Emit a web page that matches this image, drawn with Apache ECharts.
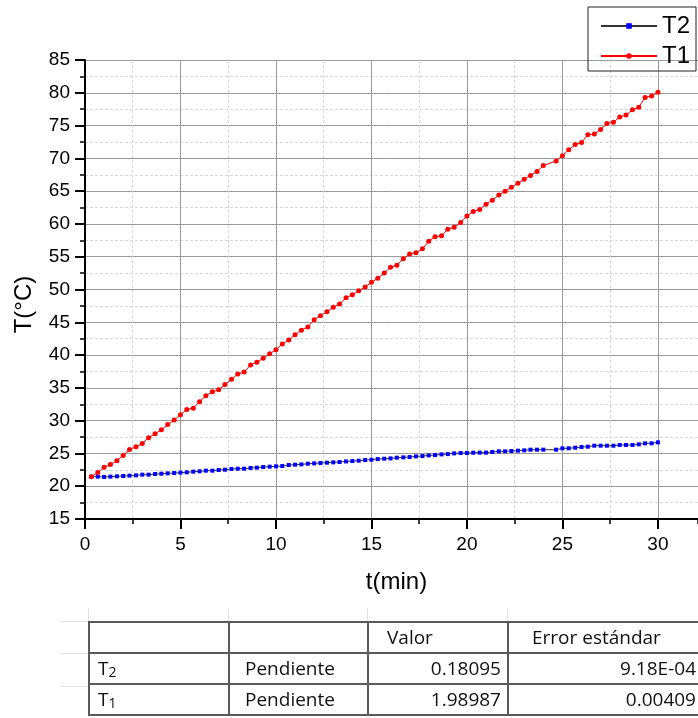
<!DOCTYPE html>
<html>
<head>
<meta charset="utf-8">
<script src="https://cdn.jsdelivr.net/npm/echarts@6/dist/echarts.min.js"></script>
<style>
  html, body { margin: 0; padding: 0; background: #fff; }
  body { width: 698px; height: 718px; overflow: hidden; position: relative; }
  #chart { position: absolute; left: 0; top: 0; width: 698px; height: 718px; }
  .tbl { position: absolute; left: 88px; top: 621px; width: 669px; border-collapse: collapse; table-layout: fixed;
         font-family: 'Open Sans', 'Noto Sans', sans-serif; font-size: 19px; color: #111; }
  .tbl td { border: 2px solid #5a5a5a; height: 29px; padding: 0; white-space: nowrap; overflow: hidden; line-height: 29px; }
  .tbl .l { text-align: left; padding-left: 8px; }
  .tbl .p { text-align: left; padding-left: 15px; }
  .tbl .h { text-align: left; padding-left: 18px; }
  .tbl .h2 { text-align: left; padding-left: 23px; }
  .tbl .r { text-align: right; padding-right: 6px; }
  .tbl .r2 { text-align: right; padding-right: 61px; }
  .tbl sub { font-size: 14px; vertical-align: -2px; line-height: 0; }
  .gl { position: absolute; background: #e2e2e2; }
</style>
</head>
<body>
<div id="chart"></div>
<!-- hojas de cálculo: rejilla tenue -->
<div class="gl" style="left:88px;top:608px;width:1px;height:13px"></div>
<div class="gl" style="left:228px;top:608px;width:1px;height:13px"></div>
<div class="gl" style="left:367px;top:608px;width:1px;height:13px"></div>
<div class="gl" style="left:507px;top:608px;width:1px;height:13px"></div>
<div class="gl" style="left:60px;top:621px;width:28px;height:1px"></div>
<div class="gl" style="left:60px;top:653px;width:28px;height:1px"></div>
<div class="gl" style="left:60px;top:686px;width:28px;height:1px"></div>
<table class="tbl">
  <colgroup><col style="width:140px"><col style="width:139px"><col style="width:140px"><col style="width:250px"></colgroup>
  <tr><td></td><td></td><td class="h">Valor</td><td class="h2">Error estándar</td></tr>
  <tr><td class="l">T<sub>2</sub></td><td class="p">Pendiente</td><td class="r">0.18095</td><td class="r2">9.18E-04</td></tr>
  <tr><td class="l">T<sub>1</sub></td><td class="p">Pendiente</td><td class="r">1.98987</td><td class="r2">0.00409</td></tr>
</table>
<script>
// tiempo (min), una lectura cada 20 s
const time = [
  0.33, 0.67, 1, 1.33, 1.67, 2, 2.33, 2.67, 3, 3.33, 3.67, 4, 4.33, 4.67, 5,
  5.33, 5.67, 6, 6.33, 6.67, 7, 7.33, 7.67, 8, 8.33, 8.67, 9, 9.33, 9.67, 10,
  10.33, 10.67, 11, 11.33, 11.67, 12, 12.33, 12.67, 13, 13.33, 13.67, 14, 14.33, 14.67, 15,
  15.33, 15.67, 16, 16.33, 16.67, 17, 17.33, 17.67, 18, 18.33, 18.67, 19, 19.33, 19.67, 20,
  20.33, 20.67, 21, 21.33, 21.67, 22, 22.33, 22.67, 23, 23.33, 23.67, 24, 24.33, 24.67, 25,
  25.33, 25.67, 26, 26.33, 26.67, 27, 27.33, 27.67, 28, 28.33, 28.67, 29, 29.33, 29.67, 30
];

// T2 (°C)
const t2 = [
  21.46, 21.46, 21.41, 21.46, 21.51, 21.56, 21.61, 21.66, 21.76, 21.76, 21.86, 21.91, 21.96, 22.01, 22.07,
  22.12, 22.22, 22.27, 22.37, 22.37, 22.47, 22.52, 22.62, 22.67, 22.67, 22.78, 22.83, 22.93, 22.98, 23.03,
  23.08, 23.23, 23.28, 23.33, 23.43, 23.48, 23.54, 23.59, 23.64, 23.69, 23.78, 23.84, 23.89, 23.99, 24.04,
  24.14, 24.19, 24.24, 24.35, 24.40, 24.45, 24.55, 24.60, 24.70, 24.75, 24.85, 24.90, 25.01, 25.06, 25.06,
  25.11, 25.12, 25.12, 25.22, 25.32, 25.32, 25.37, 25.42, 25.47, 25.57, 25.57, 25.57, null, 25.57, 25.78,
  25.78, 25.88, 25.98, 26.03, 26.18, 26.18, 26.18, 26.18, 26.29, 26.29, 26.29, 26.39, 26.54, 26.54, 26.69
];

// T1 (°C)
const t1 = [
  21.46, 22.1, 22.9, 23.3, 23.9, 24.7, 25.6, 26.0, 26.5, 27.4, 28.0, 28.6, 29.4, 30.1, 30.9,
  31.7, 31.9, 32.9, 33.8, 34.4, 34.7, 35.5, 36.3, 37.1, 37.4, 38.5, 38.9, 39.5, 40.2, 40.8,
  41.7, 42.3, 43.1, 43.8, 44.3, 45.4, 46.0, 46.6, 47.3, 47.8, 48.75, 49.2, 49.8, 50.4, 51.1,
  51.7, 52.5, 53.4, 53.7, 54.7, 55.4, 55.6, 56.2, 57.35, 58.05, 58.2, 59.2, 59.5, 60.2, 61.2,
  61.9, 62.2, 63.0, 63.6, 64.4, 65.0, 65.6, 66.2, 66.8, 67.4, 68.0, 68.9, null, 69.6, 70.4,
  71.3, 72.1, 72.4, 73.6, 73.7, 74.4, 75.3, 75.5, 76.3, 76.6, 77.4, 77.8, 79.3, 79.5, 80.1
];

const seriesNames = ['T2', 'T1'];

const chart = echarts.init(document.getElementById('chart'));

const labelFont = { fontFamily: 'Liberation Sans, Arial, sans-serif', fontSize: 19, color: '#000' };

chart.setOption({
  animation: false,
  backgroundColor: '#fff',
  legend: {
    data: seriesNames,
    orient: 'vertical',
    left: 588,
    top: 7,
    padding: [7, 6, 3, 12],
    itemGap: 6,
    itemWidth: 56,
    itemHeight: 7,
    itemTextGap: 8,
    borderColor: '#222',
    borderWidth: 1,
    textStyle: { fontFamily: 'Liberation Sans, Arial, sans-serif', fontSize: 24, color: '#000' }
  },
  grid: { left: 85, right: 0, top: 60, bottom: 199, containLabel: false },
  xAxis: [
    {
      // rejilla menor
      type: 'value', min: 0, max: 32.1, interval: 2.5,
      position: 'bottom',
      axisLine: { show: false },
      axisTick: { show: true, length: 5, lineStyle: { color: '#000', width: 1.5 } },
      axisLabel: { show: false },
      splitLine: { show: true, lineStyle: { color: '#d8d8d8', width: 1, type: [3, 2] } }
    },
    {
      type: 'value', min: 0, max: 32.1, interval: 5,
      position: 'bottom',
      name: 't(min)',
      nameLocation: 'middle',
      nameGap: 51,
      nameTextStyle: { fontFamily: 'Liberation Sans, Arial, sans-serif', fontSize: 24, color: '#000', padding: [0, 0, 0, 10] },
      axisLine: { show: true, onZero: false, lineStyle: { color: '#000', width: 2 } },
      axisTick: { show: true, length: 10, lineStyle: { color: '#000', width: 2 } },
      axisLabel: Object.assign({ margin: 16, showMaxLabel: false, formatter: (v) => (v % 5 === 0 ? String(v) : '') }, labelFont),
      splitLine: { show: true, lineStyle: { color: '#9a9a9a', width: 1 } }
    }
  ],
  yAxis: {
    type: 'value', min: 15, max: 85, interval: 5,
    name: 'T(°C)',
    nameLocation: 'middle',
    nameGap: 49,
    nameTextStyle: { fontFamily: 'Liberation Sans, Arial, sans-serif', fontSize: 24, color: '#000', padding: [0, 30, 0, 0] },
    axisLine: { show: true, lineStyle: { color: '#000', width: 2 } },
    axisTick: { show: true, length: 10, lineStyle: { color: '#000', width: 2 } },
    minorTick: { show: true, splitNumber: 2, length: 5, lineStyle: { color: '#000', width: 1.5 } },
    axisLabel: Object.assign({ margin: 15 }, labelFont),
    splitLine: { show: true, lineStyle: { color: '#9a9a9a', width: 1 } },
    minorSplitLine: { show: true, lineStyle: { color: '#d8d8d8', width: 1, type: [3, 2] } }
  },
  series: [
    {
      name: 'T2',
      type: 'line',
      xAxisIndex: 1,
      data: time.map((t, i) => [t, t2[i]]),
      connectNulls: true,
      symbol: 'rect',
      symbolSize: 4,
      showAllSymbol: true,
      itemStyle: { color: '#0000ff' },
      lineStyle: { color: '#333', width: 1 }
    },
    {
      name: 'T1',
      type: 'line',
      xAxisIndex: 1,
      data: time.map((t, i) => [t, t1[i]]),
      connectNulls: true,
      symbol: 'circle',
      symbolSize: 5,
      showAllSymbol: true,
      itemStyle: { color: '#ff0000' },
      lineStyle: { color: '#ff0000', width: 1 }
    }
  ]
});
</script>
</body>
</html>
